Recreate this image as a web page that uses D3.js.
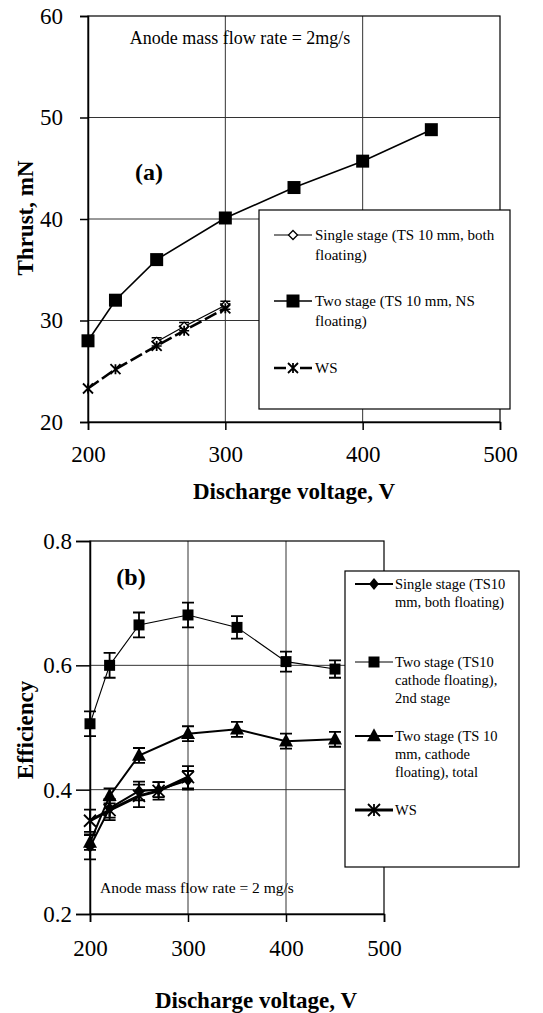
<!DOCTYPE html>
<html><head><meta charset="utf-8">
<script src="https://cdn.jsdelivr.net/npm/d3@7"></script>
<style>
body{margin:0;background:#fff}
svg{display:block}
text{font-family:"Liberation Serif","Times New Roman",serif;fill:#000}
</style>
</head><body><svg id="c" width="543" height="1013"></svg>
<script>
// ---------- Panel (a): thrust ----------
const xTicks = [200, 300, 400, 500];
const yTicksA = [20, 30, 40, 50, 60];
const voltsTwoA = [200, 220, 250, 300, 350, 400, 450];
const thrustTwo = [28.0, 32.0, 36.0, 40.1, 43.1, 45.7, 48.8];
const voltsSingleA = [250, 270, 300];
const thrustSingle = [27.9, 29.4, 31.5];
const thrustSingleErr = [0.4, 0.4, 0.4];
const voltsWSA = [200, 220, 250, 270, 300];
const thrustWS = [23.3, 25.2, 27.5, 29.0, 31.2];
const legendA = [
  ["Single stage (TS 10 mm, both", "floating)"],
  ["Two stage (TS 10 mm, NS", "floating)"],
  ["WS"]
];
// ---------- Panel (b): efficiency ----------
const yTicksB = [0.2, 0.4, 0.6, 0.8];
const voltsTwoB = [200, 220, 250, 300, 350, 400, 450];
const effTwo2nd = [0.506, 0.600, 0.665, 0.681, 0.661, 0.606, 0.594];
const effTwo2ndErr = [0.02, 0.02, 0.02, 0.02, 0.018, 0.016, 0.014];
const effTotal = [0.315, 0.39, 0.455, 0.49, 0.497, 0.478, 0.481];
const effTotalErr = [0.012, 0.012, 0.012, 0.012, 0.012, 0.012, 0.012];
const voltsSingleB = [200, 220, 250, 270, 300];
const effSingle = [0.308, 0.37, 0.398, 0.40, 0.415];
const effSingleErr = [0.02, 0.015, 0.015, 0.012, 0.015];
const voltsWSB = [200, 220, 250, 270, 300];
const effWS = [0.35, 0.367, 0.39, 0.398, 0.42];
const effWSErr = [0.018, 0.016, 0.018, 0.014, 0.018];
const legendB = [
  ["Single stage (TS10", "mm, both floating)"],
  ["Two stage (TS10", "cathode floating),", "2nd stage"],
  ["Two stage (TS 10", "mm, cathode", "floating), total"],
  ["WS"]
];

const svg = d3.select("#c");
svg.append("rect").attr("width",543).attr("height",1013).attr("fill","#fff");

function asterisk(s){return `M${-s},${-s}L${s},${s}M${-s},${s}L${s},${-s}M0,${-s}L0,${s}`;}
function diamond(w,h){return `M0,${-h}L${w},0L0,${h}L${-w},0Z`;}
function square(s){return `M${-s},${-s}H${s}V${s}H${-s}Z`;}
function triangle(w,h){return `M0,${-h*0.6}L${w},${h*0.4}L${-w},${h*0.4}Z`;}

function panel(o){
  const g = svg.append("g");
  const x = o.x, y = o.y;
  const [x0,x1] = x.range(), [yb,yt] = y.range();
  g.selectAll(".gh").data(o.gridY).join("line")
    .attr("x1",x0).attr("x2",x1).attr("y1",d=>y(d)).attr("y2",d=>y(d))
    .attr("stroke","#333").attr("stroke-width",1);
  g.selectAll(".gv").data(o.gridX).join("line")
    .attr("y1",yb).attr("y2",yt).attr("x1",d=>x(d)).attr("x2",d=>x(d))
    .attr("stroke","#333").attr("stroke-width",1);
  g.append("rect").attr("x",x0).attr("y",yt).attr("width",x1-x0).attr("height",yb-yt)
    .attr("fill","none").attr("stroke","#000").attr("stroke-width",1.2);
  const ay = g.append("g").attr("transform",`translate(${x0},0)`)
    .call(d3.axisLeft(y).tickValues(o.yTicks).tickSize(o.tickLen).tickPadding(o.padY).tickFormat(o.fmt));
  const ax = g.append("g").attr("transform",`translate(0,${yb})`)
    .call(d3.axisBottom(x).tickValues(xTicks).tickSize(8).tickPadding(o.padX).tickFormat(d3.format("d")));
  [ay,ax].forEach(a=>{
    a.select(".domain").attr("stroke","#000").attr("stroke-width",1.5);
    a.selectAll(".tick line").attr("stroke","#000").attr("stroke-width",1.5);
    a.selectAll(".tick text").attr("font-size",23).attr("font-family","Liberation Serif, serif").attr("fill","#000");
  });
  return g;
}

function errBars(g,x,y,xs,vals,errs,cap,w){
  xs.forEach((v,i)=>{
    const cx=x(v), ylo=y(vals[i]-errs[i]), yhi=y(vals[i]+errs[i]);
    g.append("path").attr("d",`M${cx},${ylo}V${yhi}M${cx-cap},${ylo}H${cx+cap}M${cx-cap},${yhi}H${cx+cap}`)
      .attr("stroke","#000").attr("stroke-width",w).attr("fill","none");
  });
}
function series(g,x,y,xs,vals,sw,dash){
  const line=d3.line().x((d,i)=>x(xs[i])).y(d=>y(d));
  const p=g.append("path").attr("d",line(vals)).attr("fill","none").attr("stroke","#000").attr("stroke-width",sw);
  if(dash)p.attr("stroke-dasharray",dash);
}
function markers(g,x,y,xs,vals,d,fill,sw){
  g.selectAll(null).data(vals).join("path")
    .attr("transform",(v,i)=>`translate(${x(xs[i])},${y(v)})`)
    .attr("d",d).attr("fill",fill).attr("stroke","#000").attr("stroke-width",sw);
}

// ===== Panel (a) =====
const xA = d3.scaleLinear().domain([200,500]).range([88,500]);
const yA = d3.scaleLinear().domain([20,60]).range([422,16]);
const gA = panel({x:xA,y:yA,gridY:[30,40,50],gridX:[300,400],yTicks:yTicksA,tickLen:8,padY:17,padX:16,fmt:d3.format("d")});
series(gA,xA,yA,voltsSingleA,thrustSingle,1.2);
errBars(gA,xA,yA,voltsSingleA,thrustSingle,thrustSingleErr,5,1.5);
series(gA,xA,yA,voltsWSA,thrustWS,2.6,"13,4");
series(gA,xA,yA,voltsTwoA,thrustTwo,1.6);
markers(gA,xA,yA,voltsTwoA,thrustTwo,square(6.5),"#000",0);
markers(gA,xA,yA,voltsSingleA,thrustSingle,diamond(4.5,4.5),"#fff",1.3);
markers(gA,xA,yA,voltsWSA,thrustWS,asterisk(5),"none",1.8);

gA.append("text").attr("x",240).attr("y",44).attr("text-anchor","middle").attr("font-size",18)
  .text("Anode mass flow rate = 2mg/s");
gA.append("text").attr("x",149).attr("y",180).attr("text-anchor","middle").attr("font-size",24).attr("font-weight","bold").text("(a)");
gA.append("text").attr("transform","translate(33,218) rotate(-90)").attr("text-anchor","middle")
  .attr("font-size",23).attr("font-weight","bold").text("Thrust, mN");
gA.append("text").attr("x",294).attr("y",499).attr("text-anchor","middle")
  .attr("font-size",23).attr("font-weight","bold").text("Discharge voltage, V");

// legend (a)
const legA = gA.append("g");
legA.append("rect").attr("x",259).attr("y",210).attr("width",251).attr("height",199)
  .attr("fill","#fff").attr("stroke","#000").attr("stroke-width",1.2);
const legAy = [235, 301, 368];
const lax0=274, lax1=312, lam=293;
legA.append("line").attr("x1",lax0).attr("x2",lax1).attr("y1",legAy[0]).attr("y2",legAy[0]).attr("stroke","#000").attr("stroke-width",1.2);
legA.append("path").attr("transform",`translate(${lam},${legAy[0]})`).attr("d",diamond(4.5,4.5)).attr("fill","#fff").attr("stroke","#000").attr("stroke-width",1.3);
legA.append("line").attr("x1",lax0).attr("x2",lax1).attr("y1",legAy[1]).attr("y2",legAy[1]).attr("stroke","#000").attr("stroke-width",1.6);
legA.append("path").attr("transform",`translate(${lam},${legAy[1]})`).attr("d",square(6.5)).attr("fill","#000");
legA.append("path").attr("d",`M${lax0},${legAy[2]}H${lax0+12}M${lax1-12},${legAy[2]}H${lax1}`).attr("stroke","#000").attr("stroke-width",2.6);
legA.append("path").attr("transform",`translate(${lam},${legAy[2]})`).attr("d",asterisk(5)).attr("fill","none").attr("stroke","#000").attr("stroke-width",1.8);
legendA.forEach((lines,i)=>{
  const t=legA.append("text").attr("x",315).attr("y",legAy[i]+5).attr("font-size",15);
  lines.forEach((s,j)=>t.append("tspan").attr("x",315).attr("dy",j?20:0).text(s));
});

// ===== Panel (b) =====
const xB = d3.scaleLinear().domain([200,500]).range([90,384]);
const yB = d3.scaleLinear().domain([0.2,0.8]).range([914,541]);
const gB = panel({x:xB,y:yB,gridY:[0.4,0.6],gridX:[300,400],yTicks:yTicksB,tickLen:14,padY:4,padX:18,fmt:d3.format(".1f")});
series(gB,xB,yB,voltsTwoB,effTwo2nd,1.1);
series(gB,xB,yB,voltsTwoB,effTotal,2);
series(gB,xB,yB,voltsSingleB,effSingle,2);
series(gB,xB,yB,voltsWSB,effWS,3);
errBars(gB,xB,yB,voltsTwoB,effTwo2nd,effTwo2ndErr,6,1.8);
errBars(gB,xB,yB,voltsTwoB,effTotal,effTotalErr,6,1.8);
errBars(gB,xB,yB,voltsSingleB,effSingle,effSingleErr,6,1.8);
errBars(gB,xB,yB,voltsWSB,effWS,effWSErr,6,1.8);
markers(gB,xB,yB,voltsTwoB,effTwo2nd,square(5.5),"#000",0);
markers(gB,xB,yB,voltsTwoB,effTotal,triangle(7,13),"#000",0);
markers(gB,xB,yB,voltsSingleB,effSingle,diamond(5,6),"#000",0);
markers(gB,xB,yB,voltsWSB,effWS,asterisk(6),"none",1.8);

gB.append("text").attr("x",100).attr("y",893).attr("font-size",15.5).text("Anode mass flow rate = 2 mg/s");
gB.append("text").attr("x",131).attr("y",585).attr("text-anchor","middle").attr("font-size",24).attr("font-weight","bold").text("(b)");
gB.append("text").attr("transform","translate(33,730) rotate(-90)").attr("text-anchor","middle")
  .attr("font-size",23).attr("font-weight","bold").text("Efficiency");
gB.append("text").attr("x",256).attr("y",1008).attr("text-anchor","middle")
  .attr("font-size",23).attr("font-weight","bold").text("Discharge voltage, V");

// legend (b)
const legB = gB.append("g");
legB.append("rect").attr("x",345).attr("y",571).attr("width",174).attr("height",296)
  .attr("fill","#fff").attr("stroke","#000").attr("stroke-width",1.2);
const legBy = [584, 662, 736, 810];
const lbx0=355, lbx1=393, lbm=374;
const legBw=[2,1.1,2,3];
const legBm=[
  g=>g.append("path").attr("d",diamond(5,6)).attr("fill","#000"),
  g=>g.append("path").attr("d",square(5.5)).attr("fill","#000"),
  g=>g.append("path").attr("d",triangle(7,13)).attr("fill","#000"),
  g=>g.append("path").attr("d",asterisk(6)).attr("fill","none").attr("stroke","#000").attr("stroke-width",1.8)
];
legendB.forEach((lines,i)=>{
  legB.append("line").attr("x1",lbx0).attr("x2",lbx1).attr("y1",legBy[i]).attr("y2",legBy[i]).attr("stroke","#000").attr("stroke-width",legBw[i]);
  legBm[i](legB.append("g").attr("transform",`translate(${lbm},${legBy[i]})`));
  const t=legB.append("text").attr("x",395).attr("y",legBy[i]+5).attr("font-size",14.5);
  lines.forEach((s,j)=>t.append("tspan").attr("x",395).attr("dy",j?18:0).text(s));
});
</script>
</body></html>
